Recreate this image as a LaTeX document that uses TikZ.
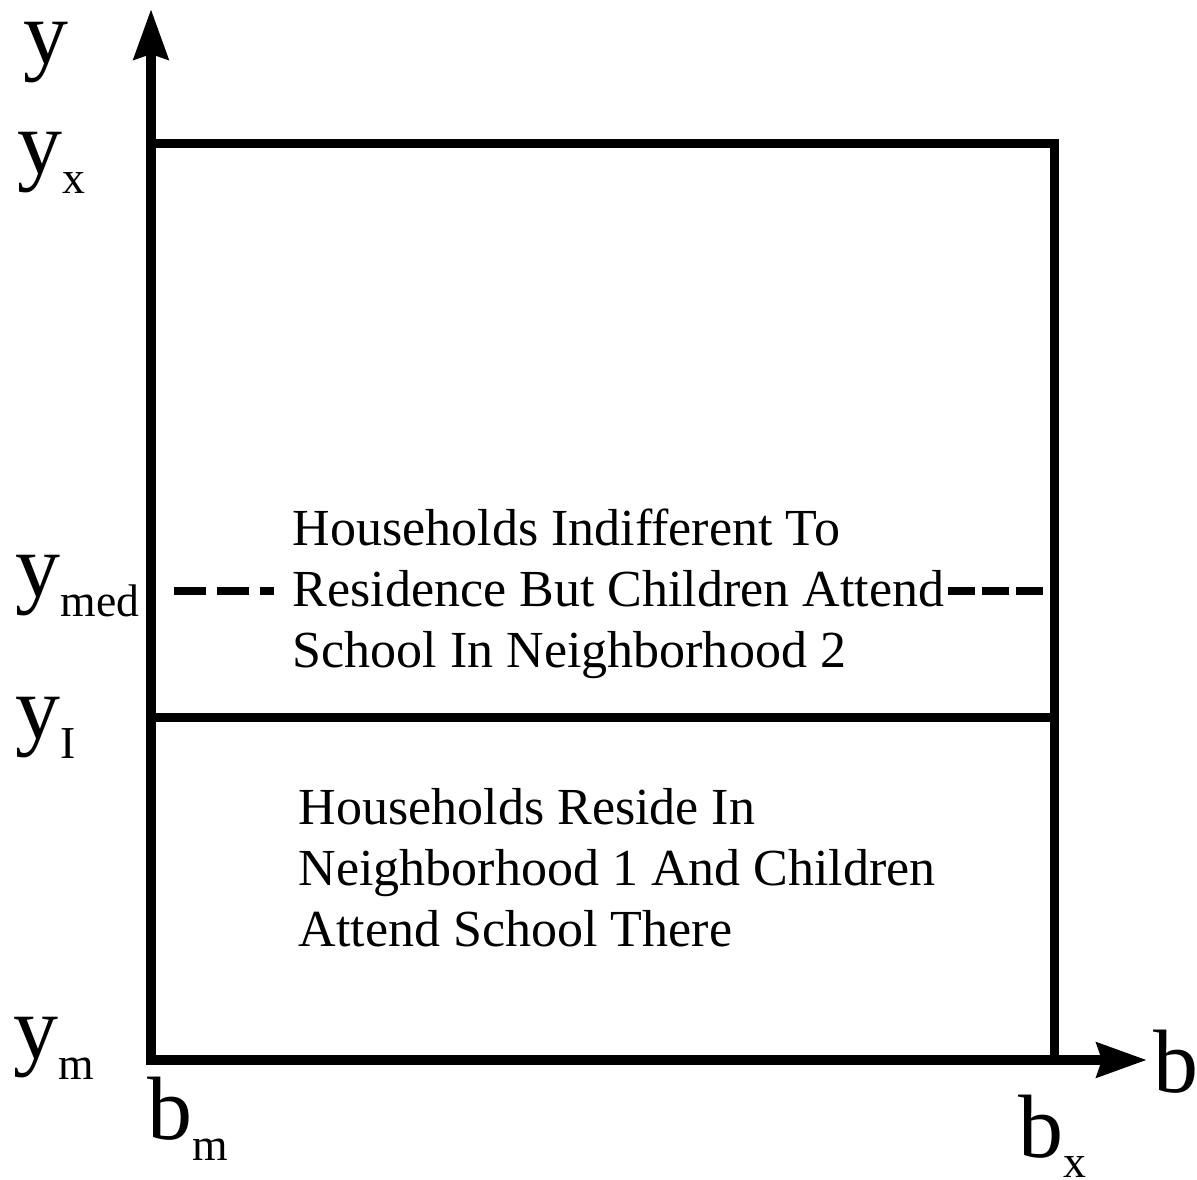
\documentclass[tikz,border=0pt]{standalone}
\usepackage{fontspec}
\setmainfont{Liberation Serif}
\usetikzlibrary{arrows.meta}

\newcommand{\axlab}[2]{{\fontsize{25.6}{26}\selectfont #1}\raisebox{-2mm}{\fontsize{13}{14}\selectfont #2}}

\tikzset{
  axis/.style={line width=1mm, -{Stealth[length=5mm,width=3.4mm,inset=0.5mm]}},
  region/.style={line width=0.9mm},
  medline/.style={line width=0.85mm},
  lab/.style={anchor=base west, inner sep=0pt, font=\fontsize{25.6}{26}\selectfont},
  blurb/.style={anchor=base west, inner sep=0pt, align=left, font=\fontsize{14.8}{17.4}\selectfont}
}

\begin{document}
\begin{tikzpicture}
\useasboundingbox (-1.51,-1.20) rectangle (10.46,10.60);

% regions
\draw [region] (0,9.16) -- (9.03,9.16) -- (9.03,0);
\draw [region] (0,3.42) -- (9.03,3.42);

% median income
\draw [medline, dash pattern=on 3.2mm off 1.1mm] (0.23,4.69) -- (1.23,4.69);
\draw [medline, dash pattern=on 2.7mm off 0.7mm] (7.97,4.69) -- (9.03,4.69);

% axes
\draw [axis] (0,-0.05) -- (0,10.51);
\draw [axis] (-0.05,0) -- (9.96,0);

\node [lab] (ylab)   at (-1.28,9.96) {y};
\node [lab] (yx)     at (-1.34,8.86) {\axlab{y}{x}};
\node [lab] (ymed)   at (-1.36,4.63) {\axlab{y}{med}};
\node [lab] (yI)     at (-1.36,3.21) {\axlab{y}{I}};
\node [lab] (ym)     at (-1.38,0.01) {\axlab{y}{m}};
\node [lab] (bm)     at (-0.04,-0.80) {\axlab{b}{m}};
\node [lab] (bx)     at (8.67,-0.98) {\axlab{b}{x}};
\node [lab] (blab)   at (10.02,-0.33) {b};

% last line sits on the given point
\node [blurb] (upper) at (1.41,3.92) {Households Indifferent To\\Residence But Children Attend\\School In Neighborhood 2};
\node [blurb] (lower) at (1.47,1.13) {Households Reside In\\Neighborhood 1 And Children\\Attend School There};

\end{tikzpicture}
\end{document}
